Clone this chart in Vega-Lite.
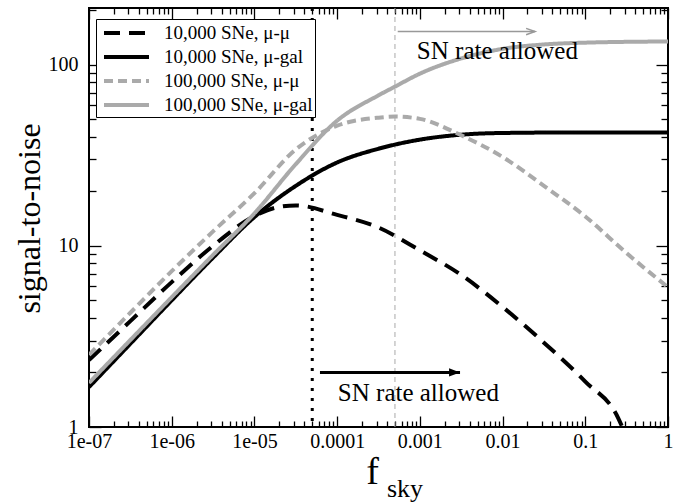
{
  "$schema": "https://vega.github.io/schema/vega-lite/v6.json",
  "width": 579,
  "height": 419,
  "autosize": "none",
  "padding": {"left": 89, "top": 8, "right": 15, "bottom": 75},
  "background": "white",
  "config": {
    "view": {"stroke": "black", "strokeWidth": 2}
  },
  "datasets": {
    "curves": [
      {"series": "10,000 SNe, μ-μ", "fx": 1e-7, "sn": 2.34},
      {"series": "10,000 SNe, μ-μ", "fx": 3.162e-7, "sn": 3.84},
      {"series": "10,000 SNe, μ-μ", "fx": 1e-6, "sn": 6.3},
      {"series": "10,000 SNe, μ-μ", "fx": 3.162e-6, "sn": 10.0},
      {"series": "10,000 SNe, μ-μ", "fx": 1e-5, "sn": 14.6},
      {"series": "10,000 SNe, μ-μ", "fx": 2e-5, "sn": 16.4},
      {"series": "10,000 SNe, μ-μ", "fx": 3.162e-5, "sn": 16.7},
      {"series": "10,000 SNe, μ-μ", "fx": 1e-4, "sn": 14.8},
      {"series": "10,000 SNe, μ-μ", "fx": 3.162e-4, "sn": 12.6},
      {"series": "10,000 SNe, μ-μ", "fx": 1e-3, "sn": 9.44},
      {"series": "10,000 SNe, μ-μ", "fx": 3.162e-3, "sn": 6.9},
      {"series": "10,000 SNe, μ-μ", "fx": 1e-2, "sn": 4.6},
      {"series": "10,000 SNe, μ-μ", "fx": 3.162e-2, "sn": 2.92},
      {"series": "10,000 SNe, μ-μ", "fx": 0.1, "sn": 1.78},
      {"series": "10,000 SNe, μ-μ", "fx": 0.25, "sn": 1.12},
      {"series": "10,000 SNe, μ-μ", "fx": 0.28, "sn": 1.0},
      {"series": "10,000 SNe, μ-gal", "fx": 1e-7, "sn": 1.66},
      {"series": "10,000 SNe, μ-gal", "fx": 3.162e-7, "sn": 2.88},
      {"series": "10,000 SNe, μ-gal", "fx": 1e-6, "sn": 5.0},
      {"series": "10,000 SNe, μ-gal", "fx": 3.162e-6, "sn": 8.6},
      {"series": "10,000 SNe, μ-gal", "fx": 1e-5, "sn": 14.4},
      {"series": "10,000 SNe, μ-gal", "fx": 3.162e-5, "sn": 21.4},
      {"series": "10,000 SNe, μ-gal", "fx": 1e-4, "sn": 28.8},
      {"series": "10,000 SNe, μ-gal", "fx": 3.162e-4, "sn": 34.3},
      {"series": "10,000 SNe, μ-gal", "fx": 1e-3, "sn": 38.5},
      {"series": "10,000 SNe, μ-gal", "fx": 3.162e-3, "sn": 41.0},
      {"series": "10,000 SNe, μ-gal", "fx": 1e-2, "sn": 41.9},
      {"series": "10,000 SNe, μ-gal", "fx": 0.1, "sn": 42.2},
      {"series": "10,000 SNe, μ-gal", "fx": 1, "sn": 42.2},
      {"series": "100,000 SNe, μ-μ", "fx": 1e-7, "sn": 2.5},
      {"series": "100,000 SNe, μ-μ", "fx": 3.162e-7, "sn": 4.27},
      {"series": "100,000 SNe, μ-μ", "fx": 1e-6, "sn": 7.24},
      {"series": "100,000 SNe, μ-μ", "fx": 3.162e-6, "sn": 12.0},
      {"series": "100,000 SNe, μ-μ", "fx": 1e-5, "sn": 19.5},
      {"series": "100,000 SNe, μ-μ", "fx": 3.162e-5, "sn": 34.0},
      {"series": "100,000 SNe, μ-μ", "fx": 1e-4, "sn": 46.0},
      {"series": "100,000 SNe, μ-μ", "fx": 3.162e-4, "sn": 50.9},
      {"series": "100,000 SNe, μ-μ", "fx": 5e-4, "sn": 51.6},
      {"series": "100,000 SNe, μ-μ", "fx": 1e-3, "sn": 50.1},
      {"series": "100,000 SNe, μ-μ", "fx": 3.162e-3, "sn": 40.7},
      {"series": "100,000 SNe, μ-μ", "fx": 1e-2, "sn": 30.9},
      {"series": "100,000 SNe, μ-μ", "fx": 3.162e-2, "sn": 21.4},
      {"series": "100,000 SNe, μ-μ", "fx": 0.1, "sn": 14.5},
      {"series": "100,000 SNe, μ-μ", "fx": 0.3162, "sn": 9.1},
      {"series": "100,000 SNe, μ-μ", "fx": 1, "sn": 5.9},
      {"series": "100,000 SNe, μ-gal", "fx": 1e-7, "sn": 1.75},
      {"series": "100,000 SNe, μ-gal", "fx": 3.162e-7, "sn": 3.02},
      {"series": "100,000 SNe, μ-gal", "fx": 1e-6, "sn": 5.2},
      {"series": "100,000 SNe, μ-gal", "fx": 3.162e-6, "sn": 8.9},
      {"series": "100,000 SNe, μ-gal", "fx": 1e-5, "sn": 15.1},
      {"series": "100,000 SNe, μ-gal", "fx": 3.162e-5, "sn": 28.2},
      {"series": "100,000 SNe, μ-gal", "fx": 1e-4, "sn": 49.0},
      {"series": "100,000 SNe, μ-gal", "fx": 3.162e-4, "sn": 67.6},
      {"series": "100,000 SNe, μ-gal", "fx": 5e-4, "sn": 75.5},
      {"series": "100,000 SNe, μ-gal", "fx": 1e-3, "sn": 89.0},
      {"series": "100,000 SNe, μ-gal", "fx": 3.162e-3, "sn": 108.0},
      {"series": "100,000 SNe, μ-gal", "fx": 1e-2, "sn": 122.0},
      {"series": "100,000 SNe, μ-gal", "fx": 3.162e-2, "sn": 129.0},
      {"series": "100,000 SNe, μ-gal", "fx": 0.1, "sn": 132.0},
      {"series": "100,000 SNe, μ-gal", "fx": 1, "sn": 134.0}
    ],
    "arrows": [
      {"kind": "black", "x1": 6.2e-5, "x2": 3.06e-3, "y": 2.0},
      {"kind": "gray", "x1": 5.4e-4, "x2": 0.0247, "y": 152}
    ],
    "notes": [
      {"x": 1.02e-4, "y": 1.54, "text": "SN rate allowed"},
      {"x": 9.2e-4, "y": 118, "text": "SN rate allowed"}
    ]
  },
  "layer": [
    {
      "data": {"values": [{"x": 5e-5}]},
      "mark": {"type": "rule", "color": "black", "strokeWidth": 3, "strokeDash": [3, 7], "strokeCap": "butt"},
      "encoding": {"x": {"field": "x", "type": "quantitative",
        "axis": {"orient": "bottom", "title": null, "labels": false, "domain": false, "grid": false, "tickColor": "black", "tickWidth": 1.3, "tickSize": -6,
          "values": [2e-7,3e-7,4e-7,5e-7,6e-7,7e-7,8e-7,9e-7,2e-6,3e-6,4e-6,5e-6,6e-6,7e-6,8e-6,9e-6,2e-5,3e-5,4e-5,5e-5,6e-5,7e-5,8e-5,9e-5,2e-4,3e-4,4e-4,5e-4,6e-4,7e-4,8e-4,9e-4,2e-3,3e-3,4e-3,5e-3,6e-3,7e-3,8e-3,9e-3,2e-2,3e-2,4e-2,5e-2,6e-2,7e-2,8e-2,9e-2,0.2,0.3,0.4,0.5,0.6,0.7,0.8,0.9]}}}
    },
    {
      "data": {"values": [{"x": 5e-4}]},
      "mark": {"type": "rule", "color": "#aaaaaa", "strokeWidth": 1, "strokeDash": [5, 4]},
      "encoding": {"x": {"field": "x", "type": "quantitative",
        "axis": {"orient": "top", "title": null, "labels": false, "domain": false, "grid": false, "tickColor": "black", "tickWidth": 1.3, "tickSize": -6,
          "values": [2e-7,3e-7,4e-7,5e-7,6e-7,7e-7,8e-7,9e-7,2e-6,3e-6,4e-6,5e-6,6e-6,7e-6,8e-6,9e-6,2e-5,3e-5,4e-5,5e-5,6e-5,7e-5,8e-5,9e-5,2e-4,3e-4,4e-4,5e-4,6e-4,7e-4,8e-4,9e-4,2e-3,3e-3,4e-3,5e-3,6e-3,7e-3,8e-3,9e-3,2e-2,3e-2,4e-2,5e-2,6e-2,7e-2,8e-2,9e-2,0.2,0.3,0.4,0.5,0.6,0.7,0.8,0.9]}}}
    },
    {
      "data": {"name": "curves"},
      "mark": {"type": "line", "interpolate": "monotone", "clip": true, "strokeCap": "butt"},
      "encoding": {
        "x": {
          "field": "fx", "type": "quantitative",
          "scale": {"type": "log", "domain": [1e-7, 1], "nice": false},
          "axis": {
            "orient": "bottom", "domain": false, "grid": false, "tickColor": "black", "tickWidth": 1.3, "tickSize": -11,
            "title": "f", "titleFont": "Liberation Serif", "titleFontWeight": "normal", "titleColor": "black", "titleFontSize": 38, "titleX": 283, "titleY": 56, "titleAlign": "center", "titleBaseline": "alphabetic",
            "values": [1e-7, 1e-6, 1e-5, 1e-4, 1e-3, 1e-2, 0.1, 1],
            "labelExpr": "round(log(datum.value)/LN10) < -4 ? '1e-0' + (-round(log(datum.value)/LN10)) : format(datum.value, '.' + max(0, -round(log(datum.value)/LN10)) + 'f')",
            "labelFont": "Liberation Serif", "labelFontSize": 20, "labelColor": "black",
            "labelOverlap": false, "labelFlush": false, "labelBound": false, "labelPadding": 15
          }
        },
        "y": {
          "field": "sn", "type": "quantitative",
          "scale": {"type": "log", "domain": [1, 205], "nice": false},
          "axis": {
            "orient": "left", "domain": false, "grid": false, "tickColor": "black", "tickWidth": 1.3, "tickSize": -12,
            "title": "signal-to-noise", "titleFont": "Liberation Serif", "titleFontWeight": "normal", "titleColor": "black", "titleFontSize": 32, "titleX": -60, "titleY": 210, "titleAngle": -90, "titleAlign": "center", "titleBaseline": "middle",
            "values": [1, 10, 100],
            "labelExpr": "format(datum.value, 'd')",
            "labelFont": "Liberation Serif", "labelFontSize": 20, "labelColor": "black",
            "labelOverlap": false, "labelFlush": false, "labelBound": false, "labelPadding": 23
          }
        },
        "color": {
          "field": "series", "type": "nominal",
          "scale": {"domain": ["10,000 SNe, μ-μ", "10,000 SNe, μ-gal", "100,000 SNe, μ-μ", "100,000 SNe, μ-gal"], "range": ["#000000", "#000000", "#aaaaaa", "#aaaaaa"]},
          "legend": {"orient": "none", "legendX": 7, "legendY": 11, "title": null, "symbolType": "M-1,0L3.5,0", "symbolSize": 400, "symbolOffset": 4, "labelFont": "Liberation Serif", "labelFontSize": 19, "labelColor": "black", "strokeColor": "black", "fillColor": "white", "padding": 2, "rowPadding": 2, "labelLimit": 0, "labelOffset": 38}
        },
        "strokeDash": {
          "field": "series", "type": "nominal",
          "scale": {"domain": ["10,000 SNe, μ-μ", "10,000 SNe, μ-gal", "100,000 SNe, μ-μ", "100,000 SNe, μ-gal"], "range": [[16, 9], [1, 0], [9, 5], [1, 0]]},
          "legend": {"orient": "none", "legendX": 7, "legendY": 11, "title": null, "symbolType": "M-1,0L3.5,0", "symbolSize": 400, "symbolOffset": 4, "labelFont": "Liberation Serif", "labelFontSize": 19, "labelColor": "black", "strokeColor": "black", "fillColor": "white", "padding": 2, "rowPadding": 2, "labelLimit": 0, "labelOffset": 38}
        },
        "strokeWidth": {
          "field": "series", "type": "nominal",
          "scale": {"domain": ["10,000 SNe, μ-μ", "10,000 SNe, μ-gal", "100,000 SNe, μ-μ", "100,000 SNe, μ-gal"], "range": [4, 4, 1.5, 1.5]},
          "legend": {"orient": "none", "legendX": 7, "legendY": 11, "title": null, "symbolType": "M-1,0L3.5,0", "symbolSize": 400, "symbolOffset": 4, "labelFont": "Liberation Serif", "labelFontSize": 19, "labelColor": "black", "strokeColor": "black", "fillColor": "white", "padding": 2, "rowPadding": 2, "labelLimit": 0, "labelOffset": 38}
        }
      }
    },
    {
      "data": {"name": "arrows"},
      "transform": [{"filter": "datum.kind == 'black'"}],
      "mark": {"type": "rule", "color": "black", "strokeWidth": 3},
      "encoding": {
        "x": {"field": "x1", "type": "quantitative", "axis": null},
        "x2": {"field": "x2"},
        "y": {"field": "y", "type": "quantitative",
          "axis": {"orient": "left", "title": null, "labels": false, "domain": false, "grid": false, "tickColor": "black", "tickWidth": 1.3, "tickSize": -7,
            "values": [2,3,4,5,6,7,8,9,20,30,40,50,60,70,80,90,200]}}
      }
    },
    {
      "data": {"name": "arrows"},
      "transform": [{"filter": "datum.kind == 'gray'"}],
      "mark": {"type": "rule", "color": "#999999", "strokeWidth": 1.5},
      "encoding": {
        "x": {"field": "x1", "type": "quantitative", "axis": null},
        "x2": {"field": "x2"},
        "y": {"field": "y", "type": "quantitative",
          "axis": {"orient": "right", "title": null, "labels": false, "domain": false, "grid": false, "tickColor": "black", "tickWidth": 1.3, "tickSize": -7,
            "values": [2,3,4,5,6,7,8,9,20,30,40,50,60,70,80,90,200]}}
      }
    },
    {
      "data": {"name": "arrows"},
      "transform": [{"filter": "datum.kind == 'black'"}],
      "mark": {"type": "point", "shape": "M-2,-0.75L0,0L-2,0.75Z", "filled": true, "color": "black", "size": 120, "opacity": 1},
      "encoding": {
        "x": {"field": "x2", "type": "quantitative", "axis": null},
        "y": {"field": "y", "type": "quantitative", "axis": null}
      }
    },
    {
      "data": {"name": "arrows"},
      "transform": [{"filter": "datum.kind == 'gray'"}],
      "mark": {"type": "point", "shape": "M-2,-0.7L0,0L-2,0.7", "filled": false, "color": "#999999", "strokeWidth": 1.5, "size": 80, "opacity": 1},
      "encoding": {
        "x": {"field": "x2", "type": "quantitative", "axis": null},
        "y": {"field": "y", "type": "quantitative", "axis": null}
      }
    },
    {
      "data": {"name": "notes"},
      "mark": {"type": "text", "align": "left", "baseline": "middle", "font": "Liberation Serif", "fontSize": 25, "color": "black"},
      "encoding": {
        "x": {
          "field": "x", "type": "quantitative",
          "axis": {"orient": "top", "title": null, "labels": false, "domain": false, "grid": false, "tickColor": "black", "tickWidth": 1.3, "tickSize": -11, "values": [1e-7, 1e-6, 1e-5, 1e-4, 1e-3, 1e-2, 0.1, 1]}
        },
        "y": {
          "field": "y", "type": "quantitative",
          "axis": {"orient": "right", "title": null, "labels": false, "domain": false, "grid": false, "tickColor": "black", "tickWidth": 1.3, "tickSize": -12, "values": [1, 10, 100]}
        },
        "text": {"field": "text"}
      }
    },
    {
      "data": {"values": [{"x": 4.0e-4, "y": 0.41, "text": "sky"}]},
      "mark": {"type": "text", "align": "left", "baseline": "alphabetic", "font": "Liberation Serif", "fontSize": 26, "color": "black"},
      "encoding": {
        "x": {"field": "x", "type": "quantitative", "axis": null},
        "y": {"field": "y", "type": "quantitative", "axis": null},
        "text": {"field": "text"}
      }
    }
  ],
  "resolve": {"axis": {"x": "independent", "y": "independent"}}
}
